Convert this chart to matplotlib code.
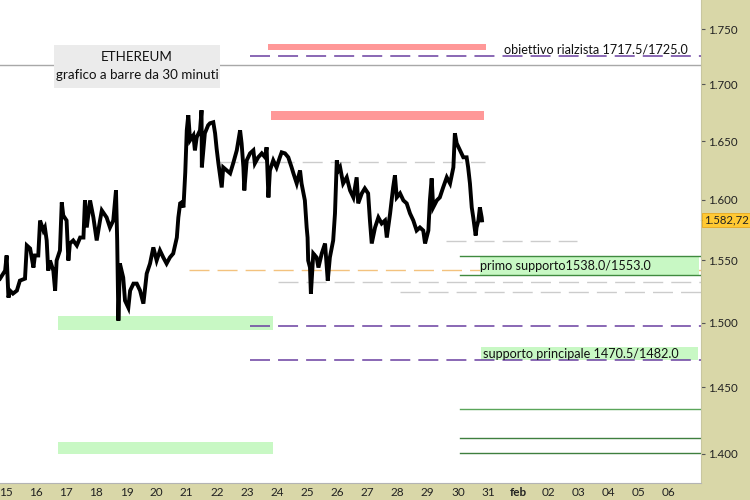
import matplotlib
matplotlib.use("Agg")
import matplotlib.pyplot as plt
import matplotlib.transforms as mtransforms
from matplotlib.ticker import FixedLocator, NullLocator, FuncFormatter

plt.rcParams['font.family'] = ['Lato', 'DejaVu Sans']
plt.rcParams['lines.scale_dashes'] = False

# ETH 30 minute bars (day of january, price)
t = [14.80, 14.97, 15.02, 15.08, 15.13, 15.23, 15.36, 15.46, 15.63, 15.69,
     15.80, 15.91, 15.96, 16.07, 16.13, 16.24, 16.29, 16.35, 16.40, 16.46,
     16.57, 16.63, 16.68, 16.79, 16.85, 16.90, 17.01, 17.07, 17.12, 17.23,
     17.35, 17.46, 17.57, 17.62, 17.68, 17.79, 17.90, 18.01, 18.12, 18.18,
     18.34, 18.45, 18.56, 18.65, 18.69, 18.73, 18.78, 18.89, 18.95, 19.06,
     19.12, 19.23, 19.34, 19.45, 19.56, 19.67, 19.78, 19.89, 20.00, 20.11,
     20.22, 20.33, 20.44, 20.55, 20.67, 20.72, 20.78, 20.83, 20.89, 20.95,
     21.00, 21.05, 21.11, 21.22, 21.27, 21.33, 21.44, 21.49, 21.50, 21.60,
     21.71, 21.77, 21.88, 21.94, 21.99, 22.05, 22.16, 22.21, 22.33, 22.44,
     22.54, 22.66, 22.77, 22.82, 22.88, 22.91, 22.99, 23.10, 23.21, 23.26,
     23.37, 23.49, 23.60, 23.65, 23.71, 23.76, 23.87, 23.98, 24.09, 24.15,
     24.26, 24.37, 24.48, 24.54, 24.65, 24.76, 24.81, 24.92, 24.98, 25.01,
     25.03, 25.09, 25.12, 25.20, 25.31, 25.37, 25.48, 25.59, 25.68, 25.75,
     25.86, 25.92, 25.98, 26.03, 26.09, 26.19, 26.31, 26.42, 26.53, 26.64,
     26.69, 26.81, 26.91, 27.02, 27.08, 27.14, 27.25, 27.36, 27.47, 27.58,
     27.64, 27.75, 27.85, 27.91, 27.97, 28.08, 28.19, 28.30, 28.41, 28.52,
     28.63, 28.74, 28.85, 28.91, 29.02, 29.07, 29.13, 29.18, 29.30, 29.40,
     29.51, 29.63, 29.74, 29.85, 29.90, 29.96, 30.07, 30.18, 30.29, 30.34,
     30.40, 30.46, 30.51, 30.59, 30.62, 30.68, 30.73, 30.79, 30.80]
price = [1535.0, 1541.5, 1553.8, 1519.8, 1525.4, 1523.0, 1525.4, 1533.4, 1535.0, 1562.0,
         1559.5, 1544.0, 1553.8, 1553.8, 1582.6, 1574.3, 1576.8, 1566.1, 1541.5, 1549.7,
         1541.5, 1525.4, 1549.7, 1557.9, 1597.7, 1586.8, 1582.6, 1549.7, 1563.6, 1566.1,
         1562.0, 1568.5, 1568.5, 1599.4, 1576.8, 1599.4, 1585.1, 1566.1, 1582.6, 1591.0,
         1585.1, 1576.8, 1582.6, 1607.8, 1566.1, 1501.5, 1547.2, 1535.9, 1517.4, 1511.8,
         1525.4, 1531.0, 1531.0, 1525.4, 1515.0, 1539.1, 1547.2, 1560.4, 1549.7, 1557.9,
         1552.2, 1547.2, 1552.2, 1555.4, 1568.5, 1585.1, 1596.9, 1597.7, 1593.5, 1623.1,
         1659.4, 1672.6, 1650.7, 1655.0, 1642.0, 1653.3, 1659.4, 1677.0, 1627.4, 1656.8,
         1663.8, 1665.5, 1666.4, 1656.8, 1643.7, 1630.8, 1610.3, 1627.4, 1624.8, 1622.3,
         1630.8, 1642.0, 1659.4, 1648.1, 1627.4, 1607.8, 1633.4, 1639.4, 1642.0, 1630.8,
         1636.0, 1639.4, 1636.0, 1644.7, 1601.9, 1624.8, 1633.4, 1627.4, 1636.0, 1640.3,
         1639.4, 1636.0, 1627.4, 1622.3, 1613.7, 1624.8, 1613.7, 1599.4, 1576.8, 1568.5,
         1549.7, 1544.0, 1523.0, 1555.4, 1552.2, 1544.0, 1555.4, 1563.6, 1533.4, 1552.2,
         1566.1, 1588.5, 1633.4, 1624.8, 1627.4, 1613.7, 1618.9, 1607.8, 1601.9, 1618.9,
         1596.9, 1605.3, 1609.5, 1605.3, 1582.6, 1563.6, 1576.8, 1585.1, 1580.1, 1582.6,
         1568.5, 1588.5, 1610.3, 1620.6, 1601.9, 1605.3, 1599.4, 1596.9, 1588.5, 1582.6,
         1574.3, 1576.8, 1574.3, 1563.6, 1574.3, 1599.4, 1618.0, 1593.5, 1599.4, 1601.9,
         1610.3, 1618.9, 1613.7, 1627.4, 1656.8, 1648.1, 1642.0, 1636.0, 1636.0, 1627.4,
         1613.7, 1593.5, 1585.1, 1570.2, 1576.8, 1582.6, 1593.5, 1585.1, 1582.7]
last_price = 1582.72

# levels
target_lo, target_hi = 1717.5, 1725.0
support1_lo, support1_hi = 1538.0, 1553.0
support2_lo, support2_hi = 1470.5, 1482.0
red_zones = [(23.70, 30.93, 1731.0, 1736.0), (23.80, 30.87, 1668.5, 1676.0)]
green_zones = [(16.73, 23.86, 1494.0, 1505.0), (16.73, 23.86, 1400.0, 1409.0)]
grey_dashed = [(22.04, 30.90, 1631.7), (29.60, 33.95, 1565.3),
               (24.03, 38.1, 1532.6), (28.08, 38.1, 1524.6)]
orange_dashed = (21.07, 38.1, 1542.3)
purple_dashed = [(23.10, 38.1, target_hi), (23.10, 38.1, 1497.0), (23.10, 38.1, support2_lo)]
green_lines = [(1433.5, '#5aa55a'), (1411.8, '#3f7f3f'), (1400.7, '#3f7f3f')]

yticks = [1400, 1450, 1500, 1550, 1600, 1650, 1700, 1750]
xticks = list(range(15, 38))
xlabels = ['15', '16', '17', '18', '19', '20', '21', '22', '23', '24', '25', '26',
           '27', '28', '29', '30', '31', 'feb', '02', '03', '04', '05', '06']

panel = '#d9d7a8'
fig = plt.figure(figsize=(7.5, 5), dpi=100, facecolor=panel)
ax = fig.add_axes([0, 17 / 500, 701 / 750, 483 / 500])
ax.set_facecolor('white')
ax.set_yscale('log')
ax.set_xlim(14.80, 38.07)
ax.set_ylim(1378.8, 1776.9)

dash = (0, (14.4, 5.8))

# zones
for x0, x1, lo, hi in red_zones:
    ax.fill_between([x0, x1], lo, hi, color='#ff9898', lw=0, zorder=1)
for x0, x1, lo, hi in green_zones:
    ax.fill_between([x0, x1], lo, hi, color='#c8f8c4', lw=0, zorder=1)

# level lines
ax.axhline(target_lo, color='#a8a8a8', lw=1.0, zorder=2)
for x0, x1, y in purple_dashed:
    ax.plot([x0, x1], [y, y], color='#6a3fa0', lw=1.1, ls=dash, zorder=2)
for x0, x1, y in grey_dashed:
    ax.plot([x0, x1], [y, y], color='#cccccc', lw=1.0, ls=dash, zorder=2)
ax.plot(orange_dashed[:2], [orange_dashed[2]] * 2, color='#f3c27e', lw=1.0, ls=dash, zorder=2)

# support boxes
ax.fill_between([30.73, 37.99], support1_lo, support1_hi, color='#c8f8c4', lw=0, zorder=2)
ax.plot([30.07, 38.1], [support1_hi] * 2, color='#3f8a3f', lw=1.0, zorder=3)
ax.plot([30.07, 38.1], [support1_lo] * 2, color='#3f8a3f', lw=1.0, zorder=3)
ax.fill_between([30.77, 37.97], support2_lo, 1480.5, color='#c8f8c4', lw=0, zorder=1)
for y, c in green_lines:
    ax.plot([30.07, 38.1], [y, y], color=c, lw=1.0, zorder=2)

# price
ax.plot(t, price, color='black', lw=2.8, solid_joinstyle='miter', zorder=4)

# texts
ax.text(31.53, 1731.5, 'obiettivo rialzista %.1f/%.1f' % (target_lo, target_hi),
        fontsize=9.1, va='center', ha='left', color='#111111', zorder=5)
ax.text(30.75, 1545.5, 'primo supporto%.1f/%.1f' % (support1_lo, support1_hi),
        fontsize=9.1, va='center', ha='left', color='#111111', zorder=5)
ax.text(30.83, 1475.3, 'supporto principale %.1f/%.1f' % (support2_lo, support2_hi),
        fontsize=9.1, va='center', ha='left', color='#111111', zorder=5)

box = plt.Rectangle((54 / 701, 1 - 88 / 483), 166 / 701, 43 / 483, transform=ax.transAxes,
                    facecolor='#ebebeb', edgecolor='none', zorder=6)
ax.add_patch(box)
ax.text(137 / 701, 1 - 57 / 483, 'ETHEREUM', transform=ax.transAxes, fontsize=9.6,
        ha='center', va='center', color='#111111', zorder=7)
ax.text(137 / 701, 1 - 75 / 483, 'grafico a barre da 30 minuti', transform=ax.transAxes,
        fontsize=9.6, ha='center', va='center', color='#111111', zorder=7)

# axes styling
for s in ['top', 'left']:
    ax.spines[s].set_visible(False)
ax.spines['bottom'].set_color('#b4b4b4')
ax.spines['right'].set_color('#c8c6a0')

ax.yaxis.tick_right()
ax.yaxis.set_major_locator(FixedLocator(yticks))
ax.yaxis.set_minor_locator(NullLocator())
ax.yaxis.set_major_formatter(FuncFormatter(lambda v, p: '{:,.0f}'.format(v).replace(',', '.')))
ax.tick_params(axis='y', which='major', direction='out', length=3, width=0.8,
               color='#555555', labelsize=8.3, labelcolor='#222222', pad=2)
ax.set_xticks(xticks)
ax.set_xticklabels(xlabels)
ax.tick_params(axis='x', length=0, labelsize=8.5, labelcolor='#222222', pad=3)
for lab in ax.get_xticklabels():
    if lab.get_text() == 'feb':
        lab.set_fontweight('bold')

# last price tag
trans = mtransforms.blended_transform_factory(ax.transAxes, ax.transData)
ax.plot([1.0, 1.006], [last_price] * 2, transform=trans, color='black', lw=0.8, clip_on=False)
ax.text(1.004, last_price, '1.582,72', transform=trans, fontsize=8.2, va='center', ha='left',
        color='#222222', clip_on=False, zorder=8,
        bbox=dict(boxstyle='square,pad=0.12', facecolor='#ffc933', edgecolor='#e8a820', lw=0.6))

fig.savefig('out.png', dpi=100, facecolor=panel)
